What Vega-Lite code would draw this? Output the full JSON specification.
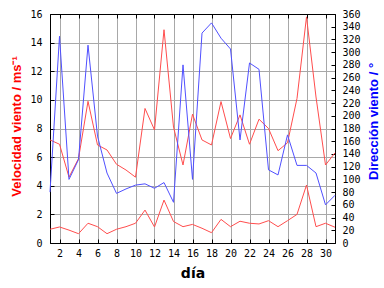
{
  "$schema": "https://vega.github.io/schema/vega-lite/v6.json",
  "width": 285,
  "height": 229,
  "autosize": {"type": "none"},
  "padding": {"left": 50, "top": 14, "right": 49, "bottom": 45},
  "background": "white",
  "config": {
    "view": {"stroke": "black", "strokeWidth": 1},
    "axis": {
      "labelFont": "DejaVu Sans Mono",
      "labelFontSize": 10,
      "labelColor": "black",
      "domainColor": "black",
      "tickColor": "black",
      "gridColor": "#a8a8a8",
      "gridOpacity": 1,
      "titleFont": "Liberation Sans",
      "titleFontWeight": "bold"
    }
  },
  "data": {
    "values": [
      {"day": 1, "vmax": 7.2, "vmed": 0.96, "dir": 80},
      {"day": 2, "vmax": 6.9, "vmed": 1.12, "dir": 325},
      {"day": 3, "vmax": 4.6, "vmed": 0.9, "dir": 100},
      {"day": 4, "vmax": 5.9, "vmed": 0.65, "dir": 131},
      {"day": 5, "vmax": 9.9, "vmed": 1.38, "dir": 311},
      {"day": 6, "vmax": 6.85, "vmed": 1.14, "dir": 168},
      {"day": 7, "vmax": 6.5, "vmed": 0.65, "dir": 110},
      {"day": 8, "vmax": 5.5, "vmed": 0.96, "dir": 78},
      {"day": 9, "vmax": 5.1, "vmed": 1.14, "dir": 85},
      {"day": 10, "vmax": 4.6, "vmed": 1.38, "dir": 91},
      {"day": 11, "vmax": 9.4, "vmed": 2.3, "dir": 93},
      {"day": 12, "vmax": 7.9, "vmed": 1.12, "dir": 86},
      {"day": 13, "vmax": 14.9, "vmed": 3.0, "dir": 95},
      {"day": 14, "vmax": 8.1, "vmed": 1.5, "dir": 64},
      {"day": 15, "vmax": 5.45, "vmed": 1.14, "dir": 280},
      {"day": 16, "vmax": 9.0, "vmed": 1.3, "dir": 100},
      {"day": 17, "vmax": 7.2, "vmed": 1.03, "dir": 330},
      {"day": 18, "vmax": 6.85, "vmed": 0.72, "dir": 346},
      {"day": 19, "vmax": 9.88, "vmed": 1.65, "dir": 322},
      {"day": 20, "vmax": 7.3, "vmed": 1.14, "dir": 305},
      {"day": 21, "vmax": 8.95, "vmed": 1.52, "dir": 162},
      {"day": 22, "vmax": 6.9, "vmed": 1.38, "dir": 283},
      {"day": 23, "vmax": 8.65, "vmed": 1.33, "dir": 273},
      {"day": 24, "vmax": 8.0, "vmed": 1.56, "dir": 115},
      {"day": 25, "vmax": 6.45, "vmed": 1.14, "dir": 107},
      {"day": 26, "vmax": 7.0, "vmed": 1.56, "dir": 170},
      {"day": 27, "vmax": 10.1, "vmed": 2.0, "dir": 122},
      {"day": 28, "vmax": 15.8, "vmed": 4.05, "dir": 122},
      {"day": 29, "vmax": 10.2, "vmed": 1.14, "dir": 110},
      {"day": 30, "vmax": 5.45, "vmed": 1.38, "dir": 60},
      {"day": 31, "vmax": 6.3, "vmed": 1.1, "dir": 75}
    ]
  },
  "layer": [
    {
      "mark": {"type": "line", "color": "#ff4d4d", "strokeWidth": 1},
      "encoding": {
        "x": {
          "field": "day", "type": "quantitative",
          "scale": {"domain": [1, 31], "nice": false, "zero": false},
          "axis": {
            "orient": "bottom",
            "values": [2, 4, 6, 8, 10, 12, 14, 16, 18, 20, 22, 24, 26, 28, 30],
            "title": "día",
            "titleFont": "DejaVu Sans",
            "titleFontWeight": "bold",
            "titleFontSize": 14,
            "titleColor": "black",
            "titlePadding": 8,
            "tickSize": -4,
            "labelPadding": 9,
            "grid": true
          }
        },
        "y": {
          "field": "vmax", "type": "quantitative",
          "scale": {"domain": [0, 16], "nice": false},
          "axis": {
            "values": [0, 2, 4, 6, 8, 10, 12, 14, 16],
            "title": "Velocidad viento / ms⁻¹",
            "titleColor": "#ff0000",
            "titleFontSize": 13,
            "titleX": -34,
            "titleY": 112,
            "titleBaseline": "middle",
            "tickSize": -4,
            "labelPadding": 12,
            "grid": true
          }
        }
      }
    },
    {
      "mark": {"type": "line", "color": "#ff4d4d", "strokeWidth": 1},
      "encoding": {
        "x": {
          "field": "day", "type": "quantitative",
          "axis": {
            "orient": "top",
            "values": [2, 4, 6, 8, 10, 12, 14, 16, 18, 20, 22, 24, 26, 28, 30],
            "labels": false,
            "title": null,
            "tickSize": -4,
            "grid": false
          }
        },
        "y": {
          "field": "vmed", "type": "quantitative",
          "scale": {"domain": [0, 16], "nice": false},
          "axis": null
        }
      }
    },
    {
      "mark": {"type": "line", "color": "#5050ff", "strokeWidth": 1},
      "encoding": {
        "x": {"field": "day", "type": "quantitative", "axis": null},
        "y": {
          "field": "dir", "type": "quantitative",
          "scale": {"domain": [0, 360], "nice": false},
          "axis": {
            "orient": "right",
            "values": [0, 20, 40, 60, 80, 100, 120, 140, 160, 180, 200, 220, 240, 260, 280, 300, 320, 340, 360],
            "title": "Dirección viento / °",
            "titleColor": "#0000ff",
            "titleFontSize": 13,
            "titleAngle": 270,
            "titleX": 38,
            "titleY": 107,
            "titleBaseline": "middle",
            "tickSize": -4,
            "labelPadding": 11,
            "grid": false
          }
        }
      }
    }
  ],
  "resolve": {
    "scale": {"y": "independent"},
    "axis": {"x": "independent", "y": "independent"}
  }
}
